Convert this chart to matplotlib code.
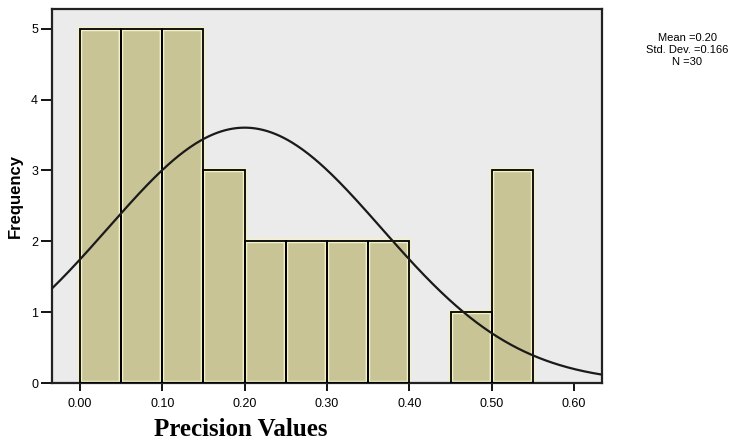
import numpy as np
import matplotlib.pyplot as plt

# histogram data
bin_edges = [0.00, 0.05, 0.10, 0.15, 0.20, 0.25, 0.30, 0.35, 0.40, 0.45, 0.50, 0.55]
counts = [5, 5, 5, 3, 2, 2, 2, 2, 0, 1, 3]
mean_val = 0.20
sd_val = 0.166
n_obs = 30
x_ticks = [0.0, 0.1, 0.2, 0.3, 0.4, 0.5, 0.6]
y_ticks = [0, 1, 2, 3, 4, 5]

fig = plt.figure(figsize=(7.53, 4.44), dpi=100)
ax = fig.add_axes([52/753, 61/444, 550/753, 374/444])
ax.set_facecolor('#ebebeb')

left = np.array(bin_edges[:-1])
width = np.diff(bin_edges)
h = np.array(counts)
keep = h > 0
# light halo then black edge, like the SPSS look
ax.bar(left[keep], h[keep], width=width[keep], align='edge', color='#c8c496',
       edgecolor='#f4f1c8', linewidth=3.2, zorder=2)
ax.bar(left[keep], h[keep], width=width[keep], align='edge', color='none',
       edgecolor='black', linewidth=1.3, zorder=3)

xmin, xmax = -0.034, 0.634
xs = np.linspace(xmin, xmax, 400)
binw = bin_edges[1] - bin_edges[0]
curve = n_obs * binw / (sd_val * np.sqrt(2 * np.pi)) * np.exp(-0.5 * ((xs - mean_val) / sd_val) ** 2)
ax.plot(xs, curve, color='#1a1a1a', linewidth=1.6, zorder=4, clip_on=True)

ax.set_xlim(xmin, xmax)
ax.set_ylim(0, 5.28)
ax.set_xticks(x_ticks)
ax.set_xticklabels([f'{v:.2f}' for v in x_ticks], fontsize=9, family='Liberation Sans')
ax.set_yticks(y_ticks)
ax.set_yticklabels([str(v) for v in y_ticks], fontsize=9, family='Liberation Sans')
ax.tick_params(axis='x', direction='out', length=6, width=1.3, colors='black', pad=5)
ax.tick_params(axis='y', direction='out', length=8, width=1.3, colors='black', pad=2)
for s in ax.spines.values():
    s.set_linewidth(1.6)
    s.set_color('#222222')

ax.set_ylabel('Frequency', fontsize=12, fontweight='bold', family='Liberation Sans', labelpad=6)
fig.text(241/753, 1 - 429/444, 'Precision Values', ha='center', va='center',
         fontsize=18, fontweight='bold', family='Liberation Serif')

fig.text(687/753, 1 - 50/444, f'Mean ={mean_val:.2f}\nStd. Dev. ={sd_val:.3f}\nN ={n_obs}',
         ha='center', va='center', fontsize=8, family='Liberation Sans', linespacing=1.2)

fig.savefig('out.png', dpi=100, facecolor='white')
